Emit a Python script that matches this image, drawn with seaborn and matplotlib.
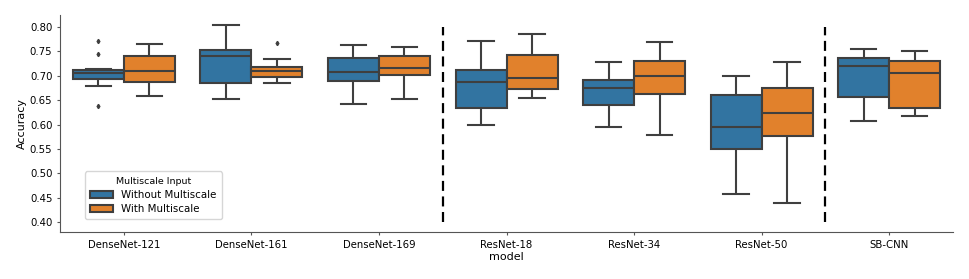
import numpy as np
import pandas as pd
import matplotlib
matplotlib.use("Agg")
import matplotlib.pyplot as plt
import seaborn as sns

models = ["DenseNet-121", "DenseNet-161", "DenseNet-169", "ResNet-18",
          "ResNet-34", "ResNet-50", "SB-CNN"]
hue_levels = ["Without Multiscale", "With Multiscale"]

# accuracy samples per model (min, q1, median, q3, max + outliers)
without_multiscale = {
    "DenseNet-121": [0.6386, 0.680, 0.688, 0.694, 0.699, 0.702, 0.705, 0.708,
                     0.710, 0.7125, 0.714, 0.745, 0.7706],
    "DenseNet-161": [0.653, 0.685, 0.741, 0.7535, 0.804],
    "DenseNet-169": [0.642, 0.689, 0.7084, 0.737, 0.7637],
    "ResNet-18":    [0.599, 0.6345, 0.688, 0.7118, 0.7713],
    "ResNet-34":    [0.5955, 0.6407, 0.675, 0.6913, 0.728],
    "ResNet-50":    [0.458, 0.5504, 0.5955, 0.6612, 0.6995],
    "SB-CNN":       [0.6072, 0.6558, 0.7193, 0.7357, 0.7542],
}
with_multiscale = {
    "DenseNet-121": [0.6585, 0.6866, 0.7098, 0.7405, 0.7644],
    "DenseNet-161": [0.685, 0.692, 0.6975, 0.704, 0.709, 0.713, 0.718, 0.7344, 0.7665],
    "DenseNet-169": [0.6534, 0.702, 0.7153, 0.741, 0.759],
    "ResNet-18":    [0.6544, 0.6735, 0.6954, 0.7426, 0.786],
    "ResNet-34":    [0.5778, 0.6632, 0.700, 0.7296, 0.7686],
    "ResNet-50":    [0.4397, 0.5757, 0.623, 0.675, 0.7276],
    "SB-CNN":       [0.618, 0.6332, 0.7063, 0.7296, 0.750],
}

rows = []
for m in models:
    for v in without_multiscale[m]:
        rows.append((m, hue_levels[0], v))
    for v in with_multiscale[m]:
        rows.append((m, hue_levels[1], v))
df = pd.DataFrame(rows, columns=["model", "Multiscale Input", "Accuracy"])

fig = plt.figure(figsize=(9.69, 2.79), dpi=100)
ax = fig.add_axes([0.062, 0.1685, 0.9215, 0.7775])

sns.boxplot(data=df, x="model", y="Accuracy", hue="Multiscale Input",
            order=models, hue_order=hue_levels,
            palette=["#1f77b4", "#ff7f0e"], saturation=0.75,
            linecolor="#3f3f3f", linewidth=1.5, width=0.8,
            flierprops=dict(marker="d", markersize=2.2,
                            markerfacecolor="#3f3f3f", markeredgecolor="#3f3f3f"),
            ax=ax)

for xpos in [2.5, 5.5]:
    ax.plot([xpos, xpos], [0.40, 0.80], color="black", linestyle=(0, (4.5, 2.5)),
            linewidth=1.6)

ax.set_ylim(0.3795, 0.8246)
ax.set_xlim(-0.5, 6.5)
ax.set_yticks(np.arange(0.40, 0.801, 0.05))
ax.set_yticklabels([f"{t:.2f}" for t in np.arange(0.40, 0.801, 0.05)])
ax.tick_params(labelsize=7.3, color="#555555", length=2.5, pad=3)
ax.set_xlabel("model", fontsize=8, labelpad=1.5)
ax.set_ylabel("Accuracy", fontsize=8, labelpad=2)
sns.despine(ax=ax)
for s in ["left", "bottom"]:
    ax.spines[s].set_color("#555555")

leg = ax.legend(title="Multiscale Input", loc="lower left",
                bbox_to_anchor=(0.028, 0.06), borderaxespad=0,
                fontsize=7.4, title_fontsize=6.8, frameon=True,
                handlelength=2.2, handleheight=0.7, labelspacing=0.4,
                borderpad=0.5)

fig.savefig("out.png", dpi=100)
